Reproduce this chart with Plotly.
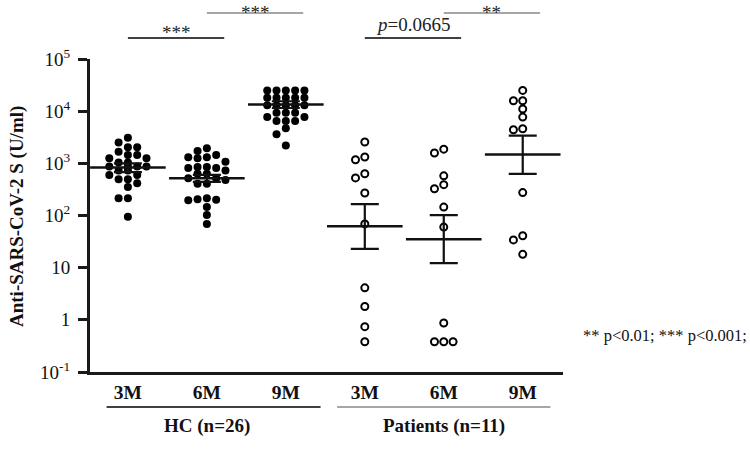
import numpy as np
import plotly.graph_objects as go

# ---------------- data ----------------
categories = ["3M", "6M", "9M", "3M", "6M", "9M"]
group_labels = ["HC (n=26)", "Patients (n=11)"]

hc_3m = [3100, 2500, 2030, 2030, 1660, 1440, 1440, 1250, 1250, 1040, 1040,
         865, 865, 865, 865, 725, 725, 600, 600, 495, 495, 415, 350, 215, 215, 95]
hc_6m = [1950, 1730, 1440, 1310, 1310, 1250, 1070, 850, 850, 810, 810, 725,
         630, 630, 515, 515, 480, 405, 405, 213, 205, 200, 195, 145, 102, 69]
hc_9m = [25000, 25000, 25000, 25000, 25000, 18000, 18000, 18000, 18000, 18000,
         13000, 13000, 13000, 13000, 13000, 9300, 9300, 9300, 7700, 7700,
         6500, 6500, 6500, 4700, 3600, 2200]
pt_3m = [2570, 1320, 1170, 630, 525, 270, 69, 4.1, 1.8, 0.74, 0.38]
pt_6m = [1870, 1580, 575, 390, 325, 145, 60, 0.87, 0.38, 0.38, 0.38]
pt_9m = [25000, 15800, 15800, 11000, 7700, 4600, 4400, 275, 41, 34, 18]

hc_mean = [830, 515, 13400]
hc_upper = [1000, 600, 15500]
hc_lower = [680, 440, 11500]
pt_mean = [62, 35, 1480]
pt_upper = [165, 102, 3400]
pt_lower = [23, 12.2, 630]

y_tickvals = [0.1, 1, 10, 100, 1000, 10000, 100000]
y_ticktext = ["10<sup>-1</sup>", "1", "10", "10<sup>2</sup>", "10<sup>3</sup>",
              "10<sup>4</sup>", "10<sup>5</sup>"]

# comparisons: (first idx, second idx, label, colour, level)
comparisons = [(0, 1, "***", "#000000", 1),
               (1, 2, "***", "#888888", 2),
               (3, 4, "<i>p</i>=0.0665", "#000000", 1),
               (4, 5, "**", "#888888", 2)]

# ---------------- layout helpers ----------------
L, R, T, B = 90, 187, 59, 81
W, H = 750, 453
X_RANGE = [-0.48, 5.51]
PX_PER_CAT = (W - L - R) / (X_RANGE[1] - X_RANGE[0])
PX_PER_DEC = (H - T - B) / 6.0
STEP = 9.3
DIAM = 7.0
SERIF = "Liberation Serif, Times New Roman, serif"


def swarm(values, maxc=2):
    order = sorted(range(len(values)), key=lambda k: -values[k])
    cols = [0]
    for c in range(1, maxc + 1):
        cols += [-c, c]
    placed = []
    offs = [0.0] * len(values)
    for k in order:
        y = np.log10(values[k]) * PX_PER_DEC
        best, bestd = None, -1
        for c in cols:
            d = min([abs(py_ - y) for pc, py_ in placed if pc == c] + [1e9])
            if d >= DIAM:
                best = c
                break
            if d > bestd + 0.5:
                best, bestd = c, d
        placed.append((best, y))
        offs[k] = best * STEP / PX_PER_CAT
    return offs


fig = go.Figure()

hc_sets = [hc_3m, hc_6m, hc_9m]
pt_sets = [pt_3m, pt_6m, pt_9m]

for i, vals in enumerate(hc_sets):
    offs = swarm(vals)
    fig.add_trace(go.Scatter(
        x=[i + o for o in offs], y=vals, mode="markers",
        marker=dict(size=8, color="black", line=dict(width=0)),
        showlegend=False, hoverinfo="y"))

for i, vals in enumerate(pt_sets):
    offs = swarm(vals)
    fig.add_trace(go.Scatter(
        x=[3 + i + o for o in offs], y=vals, mode="markers",
        marker=dict(size=7, color="white", line=dict(width=2, color="black")),
        showlegend=False, hoverinfo="y"))

means = hc_mean + pt_mean
uppers = hc_upper + pt_upper
lowers = hc_lower + pt_lower
fig.add_trace(go.Scatter(
    x=list(range(6)), y=means, mode="markers",
    marker=dict(symbol="line-ew", size=54, line=dict(width=2.5, color="#111")),
    error_y=dict(type="data", symmetric=False,
                 array=[u - m for u, m in zip(uppers, means)],
                 arrayminus=[m - l for m, l in zip(means, lowers)],
                 color="#111", thickness=2.2, width=14),
    showlegend=False, hoverinfo="y"))

fig.update_xaxes(range=X_RANGE, tickvals=list(range(6)),
                 ticktext=["<b>%s</b>" % c for c in categories],
                 showgrid=False, zeroline=False, showline=True,
                 linecolor="#1a1a1a", linewidth=3, ticks="",
                 tickfont=dict(family=SERIF, size=19.5, color="#111"),
                 ticklabelstandoff=1)
fig.update_yaxes(type="log", range=[-1, 5], tickvals=y_tickvals,
                 ticktext=y_ticktext, showgrid=False, zeroline=False,
                 showline=True, linecolor="#1a1a1a", linewidth=3,
                 ticks="outside", ticklen=9, tickwidth=3, tickcolor="#1a1a1a",
                 tickfont=dict(family=SERIF, size=19, color="#111"),
                 ticklabelstandoff=4)

shapes = []
annotations = []


def py(ypx):
    return (H - B - ypx) / (H - T - B)


def px(xpx):
    return (xpx - L) / (W - L - R)


for a, b, lab, col, lvl in comparisons:
    ylin = 38 if lvl == 1 else 13
    shapes.append(dict(type="line", xref="x", yref="paper", x0=a, x1=b + 0.22,
                       y0=py(ylin), y1=py(ylin),
                       line=dict(color=col, width=1.3)))
    if lvl == 1:
        shift = 7 if "*" in lab else -1
        ann = dict(y=py(ylin + shift), yanchor="bottom")
    else:
        ann = dict(y=py(0), yanchor="top")
    annotations.append(dict(xref="x", yref="paper", x=(a + b + 0.22) / 2,
                            showarrow=False, text=lab,
                            font=dict(family=SERIF, size=19, color="#222"), **ann))

# group underlines and labels
for g, (x0, x1, col) in enumerate([(-0.27, 2.44, "#000000"), (2.65, 5.35, "#888888")]):
    shapes.append(dict(type="line", xref="x", yref="paper", x0=x0, x1=x1,
                       y0=py(407), y1=py(407), line=dict(color=col, width=1.5)))
    annotations.append(dict(xref="x", yref="paper", x=1 + 3 * g, y=py(426),
                            yanchor="middle", showarrow=False,
                            text="<b>%s</b>" % group_labels[g],
                            font=dict(family=SERIF, size=19, color="#111")))

annotations.append(dict(xref="paper", yref="paper", x=px(17),
                        y=py(217), xanchor="center", yanchor="middle", textangle=-90,
                        showarrow=False, text="<b>Anti-SARS-CoV-2 S (U/ml)</b>",
                        font=dict(family=SERIF, size=19, color="#111")))
annotations.append(dict(xref="paper", yref="paper", x=px(581),
                        y=py(335), xanchor="left", yanchor="middle",
                        showarrow=False, text="** p&lt;0.01; *** p&lt;0.001;",
                        font=dict(family=SERIF, size=16.5, color="#111")))

fig.update_layout(width=W, height=H, margin=dict(l=L, r=R, t=T, b=B),
                  paper_bgcolor="white", plot_bgcolor="white",
                  shapes=shapes, annotations=annotations)

fig.write_html("out.html", config={"displayModeBar": False},
               post_script="document.body.style.margin='0px';")
